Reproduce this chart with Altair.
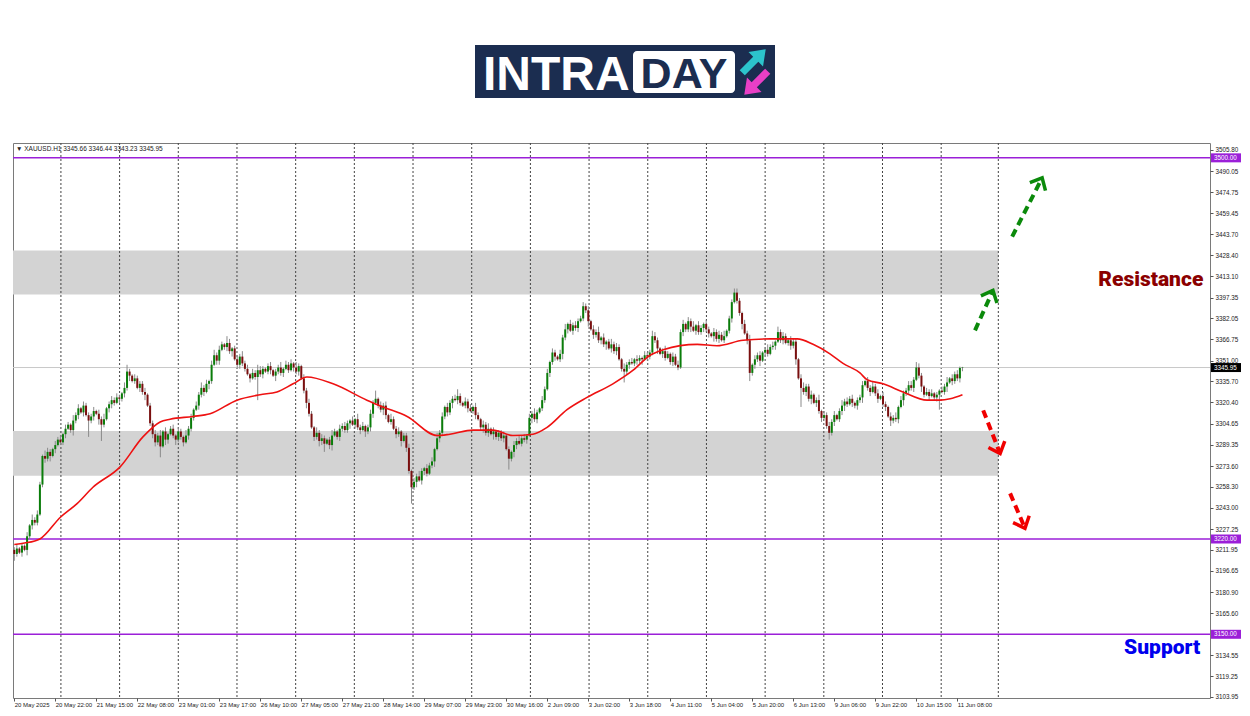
import altair as alt
import pandas as pd

# ---------------- data ----------------
FIRST_OPEN = 3212.0
CLOSE_ROWS = [
    [3209, 3213, 3210, 3215, 3212, 3222, 3230, 3234, 3232, 3238],
    [3260, 3281, 3279, 3284, 3281, 3286, 3289, 3293, 3291, 3297],
    [3301, 3304, 3300, 3307, 3311, 3316, 3313, 3318, 3311, 3307],
    [3310, 3314, 3312, 3308, 3304, 3308, 3316, 3319, 3322, 3320],
    [3324, 3323, 3327, 3331, 3343, 3340, 3336, 3338, 3331, 3334],
    [3328, 3326, 3318, 3305, 3297, 3291, 3296, 3288, 3299, 3293],
    [3297, 3301, 3296, 3293, 3299, 3295, 3291, 3296, 3301, 3309],
    [3315, 3318, 3326, 3331, 3328, 3334, 3336, 3348, 3355, 3351],
    [3359, 3363, 3361, 3364, 3358, 3360, 3352, 3348, 3354, 3349],
    [3345, 3341, 3338, 3342, 3339, 3344, 3341, 3345, 3343, 3347],
    [3344, 3340, 3343, 3346, 3342, 3345, 3348, 3344, 3349, 3346],
    [3343, 3347, 3338, 3329, 3320, 3312, 3302, 3295, 3298, 3292],
    [3294, 3290, 3293, 3289, 3296, 3299, 3295, 3301, 3303, 3300],
    [3305, 3307, 3304, 3308, 3302, 3300, 3303, 3299, 3302, 3312],
    [3320, 3323, 3318, 3315, 3318, 3311, 3306, 3308, 3301, 3297],
    [3299, 3292, 3296, 3287, 3270, 3258, 3262, 3266, 3263, 3270],
    [3272, 3268, 3274, 3277, 3286, 3294, 3298, 3310, 3317, 3313],
    [3320, 3323, 3322, 3325, 3320, 3318, 3321, 3316, 3314, 3317],
    [3311, 3308, 3302, 3304, 3298, 3301, 3297, 3299, 3295, 3298],
    [3294, 3296, 3286, 3279, 3284, 3289, 3292, 3290, 3294, 3293],
    [3296, 3309, 3312, 3308, 3313, 3316, 3322, 3330, 3342, 3350],
    [3357, 3354, 3352, 3356, 3368, 3374, 3378, 3373, 3377, 3375],
    [3380, 3382, 3391, 3388, 3380, 3374, 3370, 3372, 3366, 3368],
    [3363, 3365, 3360, 3363, 3358, 3361, 3352, 3345, 3343, 3348],
    [3350, 3349, 3352, 3351, 3353, 3352, 3355, 3354, 3357, 3369],
    [3366, 3360, 3356, 3358, 3353, 3356, 3350, 3354, 3348, 3346],
    [3372, 3378, 3374, 3380, 3376, 3373, 3377, 3372, 3375, 3378],
    [3374, 3371, 3369, 3372, 3367, 3370, 3366, 3369, 3373, 3382],
    [3394, 3401, 3395, 3386, 3378, 3371, 3366, 3342, 3348, 3352],
    [3355, 3351, 3357, 3359, 3356, 3361, 3362, 3365, 3372, 3366],
    [3369, 3364, 3366, 3362, 3365, 3352, 3338, 3331, 3328, 3332],
    [3323, 3326, 3320, 3322, 3314, 3309, 3311, 3303, 3298, 3306],
    [3311, 3308, 3314, 3318, 3321, 3319, 3323, 3320, 3318, 3322],
    [3324, 3333, 3336, 3331, 3328, 3332, 3327, 3323, 3325, 3319],
    [3317, 3310, 3307, 3309, 3308, 3317, 3322, 3327, 3329, 3333],
    [3331, 3337, 3346, 3340, 3332, 3326, 3328, 3325, 3327, 3324],
    [3326, 3329, 3328, 3332, 3335, 3338, 3336, 3341, 3338, 3345.66],
    [3345.95],
]
# wick lengths above / below the body, one base-36 character per bar (dollars)
WICK_UP = "".join([
    "2312131423", "2143213231", "3214231322", "2313241232", "3214521322",
    "2312232413", "1231321423", "1324231342", "3215312324", "2313243212",
    "3122413231", "4213232142", "3212421323", "2131423123", "2613231422",
    "3122313242", "1323142313", "2235213231", "3213241312", "2312132423",
    "1324213231", "3213241323", "2232313241", "3124232142", "2313213224",
    "3212421323", "2313241321", "3213232412", "2332132413", "2312423142",
    "3213221342", "2312413232", "3124232312", "2313242313", "2132413223",
    "3243213231", "2132413231", "0",
])
WICK_DN = "".join([
    "5213142322", "1232413122", "312423131c", "2314c21332", "1323241213",
    "2412332814", "3124223132", "2132314213", "3123241332", "21312h2312",
    "3142231213", "2312421324", "3613412322", "2413231423", "3122431213",
    "24132c2413", "3212413223", "2413212312", "3124231423", "2318243122",
    "3142312213", "2312423132", "3122413223", "2413231282", "3123241322",
    "2413212312", "1322413223", "2314231212", "3122413623", "2413212312",
    "3123241e23", "2413231252", "3123421323", "2412312312", "3142231423",
    "2312421312", "3b12413223", "2",
])
LAST_BAR = {"open": 3345.66, "high": 3346.44, "low": 3343.23, "close": 3345.95}

# moving average (red line), read at selected bars
MA_IDX = [0, 4, 10, 18, 24.5, 30.7, 41.3, 50.2, 56.9, 60.8, 69.7, 76.4, 86.9, 95.9,
          102.5, 108.8, 114.2, 124.4, 137.6, 143.9, 153.3, 165, 170, 179, 186.8,
          194.6, 202.4, 207.9, 215.7, 223.5, 233.6, 241.5, 248.1, 253.2, 266.5,
          274.2, 284.4, 295, 305.5, 311.7, 318.3, 323.4, 330, 332.8, 339, 346.8,
          356.2, 361.3, 365.2, 370]
MA_VAL = [3216, 3217, 3220, 3236, 3246, 3258, 3273, 3295, 3306, 3308, 3310, 3312,
          3322, 3326, 3328, 3334, 3339, 3334, 3322, 3317, 3310, 3296, 3297, 3300,
          3300, 3296, 3297, 3302, 3315, 3324, 3334, 3344, 3355, 3359, 3363, 3362,
          3366, 3367, 3367, 3363, 3356, 3349, 3342, 3337, 3334, 3328, 3322, 3322,
          3323, 3326]

X_LABELS = ["20 May 2025", "20 May 22:00", "21 May 15:00", "22 May 08:00",
            "23 May 01:00", "23 May 17:00", "26 May 10:00", "27 May 05:00",
            "27 May 21:00", "28 May 14:00", "29 May 07:00", "29 May 23:00",
            "30 May 16:00", "2 Jun 09:00", "3 Jun 02:00", "3 Jun 18:00",
            "4 Jun 11:00", "5 Jun 04:00", "5 Jun 20:00", "6 Jun 13:00",
            "9 Jun 06:00", "9 Jun 22:00", "10 Jun 15:00", "11 Jun 08:00"]
X_LABEL_STEP = 16
Y_TICKS = [3505.80, 3490.05, 3474.75, 3459.45, 3443.70, 3428.40, 3413.10, 3397.35,
           3382.05, 3366.75, 3351.00, 3335.70, 3320.40, 3304.65, 3289.35, 3273.60,
           3258.30, 3243.00, 3227.25, 3211.95, 3196.65, 3180.90, 3165.60, 3134.55,
           3119.25, 3103.95]
GRID_IDX = [18.2, 41.1, 64.0, 86.9, 109.8, 132.7, 155.6, 178.5, 201.4, 224.3,
            247.2, 270.1, 293.0, 315.9, 338.8, 361.7, 384.0]

ZONE_LOW = [3266.4, 3399.7]
ZONE_HIGH = [3299.4, 3431.9]
ZONE_END = 384.0

LEVELS = [3500.0, 3220.0, 3150.0]
CURRENT = 3345.95
HEADER = "▼ XAUUSD.H1  3345.66 3346.44 3343.23 3345.95"

ARROW_X0 = [374.9, 389.4, 378.1, 388.6]
ARROW_Y0 = [3373.3, 3442.1, 3314.5, 3253.5]
ARROW_X1 = [381.9, 401.1, 384.7, 394.4]
ARROW_Y1 = [3402.6, 3485.3, 3282.8, 3227.9]
ARROW_ANGLE = [24, 27, 159, 157]
ARROW_COLOR = ["#0b8a0b", "#0b8a0b", "#f00000", "#f00000"]

NOTE_TEXT = ["Resistance", "Support"]
NOTE_IDX = [464.0, 462.8]
NOTE_PRICE = [3409.9, 3139.8]
NOTE_COLOR = ["#8b0000", "#0000ee"]

# ---------------- build tables ----------------
closes = [float(v) for row in CLOSE_ROWS for v in row]
opens = [FIRST_OPEN] + closes[:-1]
rows = []
for i, (o, c) in enumerate(zip(opens, closes)):
    hi = max(o, c) + int(WICK_UP[i], 36)
    lo = min(o, c) - int(WICK_DN[i], 36)
    rows.append({"i": i, "open": o, "close": c, "high": hi, "low": lo})
rows[-1].update(LAST_BAR)
for r in rows:
    r["dir"] = "up" if r["close"] >= r["open"] else "down"
candles = pd.DataFrame(rows)

ma = pd.DataFrame({"i": MA_IDX, "v": MA_VAL})
grid = pd.DataFrame({"g": GRID_IDX})
zones = pd.DataFrame({"lo": ZONE_LOW, "hi": ZONE_HIGH,
                      "s": [-0.5] * len(ZONE_LOW), "e": [ZONE_END] * len(ZONE_LOW)})
levels = pd.DataFrame({"p": LEVELS})
cur = pd.DataFrame({"p": [CURRENT]})
boxes = pd.DataFrame({"p": LEVELS + [CURRENT],
                      "txt": [f"{v:.2f}" for v in LEVELS + [CURRENT]],
                      "col": ["#9b1fd8"] * len(LEVELS) + ["#000000"]})
arrows = pd.DataFrame({"x0": ARROW_X0, "y0": ARROW_Y0, "x1": ARROW_X1, "y1": ARROW_Y1,
                       "ang": ARROW_ANGLE, "col": ARROW_COLOR})
notes = pd.DataFrame({"t": NOTE_TEXT, "i": NOTE_IDX, "p": NOTE_PRICE, "col": NOTE_COLOR})
header = pd.DataFrame({"t": [HEADER]})
logo = pd.DataFrame({"a": ["INTRA"], "b": ["DAY"]})

# ---------------- scales / axes ----------------
W, H = 1197, 555
XS = alt.Scale(domain=[-0.5, 466.6], nice=False, zero=False, padding=0)
YS = alt.Scale(domain=[3103.2, 3510.9], nice=False, zero=False, padding=0)
label_arr = "[" + ",".join("'" + s + "'" for s in X_LABELS) + "]"
XA = alt.Axis(values=[k * X_LABEL_STEP for k in range(len(X_LABELS))],
              labelExpr=label_arr + "[round(datum.value / %d)]" % X_LABEL_STEP,
              labelAlign="left", labelFontSize=6, labelFont="Liberation Sans",
              labelColor="#222", tickSize=3, tickColor="#555", domain=False,
              grid=False, labelPadding=0, labelOverlap=False, title=None)
YA = alt.Axis(orient="right", values=Y_TICKS, format=".2f", labelFontSize=6.3,
              labelFont="Liberation Sans", labelColor="#222", tickSize=3,
              tickColor="#555", domain=False, grid=False, labelPadding=2,
              labelOverlap=False, title=None)


def X(f, **kw):
    return alt.X(f, scale=XS, axis=XA, **kw)


def Y(f, **kw):
    return alt.Y(f, scale=YS, axis=YA, **kw)


layers = []
# grey zones
layers.append(alt.Chart(zones).mark_rect(color="#d3d3d3").encode(
    x=X("s:Q"), x2="e:Q", y=Y("lo:Q"), y2="hi:Q"))
# dotted vertical grid
layers.append(alt.Chart(grid).mark_rule(color="#444", strokeWidth=1, strokeDash=[2, 2]).encode(
    x=X("g:Q")))
# current price line
layers.append(alt.Chart(cur).mark_rule(color="#c8c8c8", strokeWidth=1).encode(y=Y("p:Q")))
# purple levels
layers.append(alt.Chart(levels).mark_rule(color="#9b1fd8", strokeWidth=1.5).encode(y=Y("p:Q")))
# wicks
layers.append(alt.Chart(candles).mark_rule(color="#8a8a8a", strokeWidth=1).encode(
    x=X("i:Q"), y=Y("low:Q"), y2="high:Q"))
# bodies
layers.append(alt.Chart(candles).mark_bar(width=2).encode(
    x=X("i:Q"), y=Y("open:Q"), y2="close:Q",
    color=alt.Color("dir:N", scale=alt.Scale(domain=["up", "down"],
                                             range=["#0a7d0a", "#7a0f0f"]), legend=None)))
# moving average
layers.append(alt.Chart(ma).mark_line(color="#ee1111", strokeWidth=1.6,
                                      interpolate="monotone").encode(x=X("i:Q"), y=Y("v:Q")))
# arrows
layers.append(alt.Chart(arrows).mark_rule(strokeWidth=4, strokeDash=[8, 5], strokeCap="butt").encode(
    x=X("x0:Q"), y=Y("y0:Q"), x2="x1:Q", y2="y1:Q", color=alt.Color("col:N", scale=None)))
layers.append(alt.Chart(arrows).mark_point(shape="M-0.8,0.9L0,0L0.8,0.9", size=480,
                                           filled=False, strokeWidth=3.5, opacity=1).encode(
    x=X("x1:Q"), y=Y("y1:Q"), angle=alt.Angle("ang:Q", scale=None),
    color=alt.Color("col:N", scale=None)))
# price label boxes on the axis
layers.append(alt.Chart(boxes).mark_point(shape="M-1,-0.3H1V0.3H-1Z", size=900, filled=True,
                                          opacity=1, strokeWidth=0).encode(
    x=alt.value(W + 16), y=Y("p:Q"), color=alt.Color("col:N", scale=None)))
layers.append(alt.Chart(boxes).mark_text(align="left", baseline="middle", fontSize=6.3,
                                         font="Liberation Sans", color="white").encode(
    x=alt.value(W + 4), y=Y("p:Q"), text="txt:N"))
# Resistance / Support
layers.append(alt.Chart(notes).mark_text(align="right", baseline="middle", fontSize=21,
                                         font="Roboto", fontWeight=900).encode(
    x=X("i:Q"), y=Y("p:Q"), text="t:N", color=alt.Color("col:N", scale=None)))
# header
layers.append(alt.Chart(header).mark_text(align="left", baseline="middle", fontSize=6.5,
                                          font="Liberation Sans", color="#222").encode(
    x=alt.value(3), y=alt.value(6), text="t:N"))
# logo
layers.append(alt.Chart(logo).mark_rect(color="#1b2d50").encode(
    x=alt.value(462), x2=alt.value(762), y=alt.value(-98), y2=alt.value(-45)))
layers.append(alt.Chart(logo).mark_rect(color="white", cornerRadius=4).encode(
    x=alt.value(620), x2=alt.value(722), y=alt.value(-92), y2=alt.value(-50)))
layers.append(alt.Chart(logo).mark_text(align="left", baseline="alphabetic", fontSize=48,
                                        font="Liberation Sans", fontWeight="bold",
                                        color="white").encode(
    x=alt.value(470), y=alt.value(-53), text="a:N"))
layers.append(alt.Chart(logo).mark_text(align="center", baseline="alphabetic", fontSize=43,
                                        font="Liberation Sans", fontWeight="bold",
                                        color="#1b2d50").encode(
    x=alt.value(671), y=alt.value(-55), text="b:N"))
ARROW_PATH = "M-0.22,1L-0.22,-0.15L-0.62,-0.15L0,-1L0.62,-0.15L0.22,-0.15L0.22,1Z"
layers.append(alt.Chart(logo).mark_point(shape=ARROW_PATH, size=1100, filled=True, opacity=1,
                                         color="#2cc4cc", angle=45, strokeWidth=0).encode(
    x=alt.value(741), y=alt.value(-82)))
layers.append(alt.Chart(logo).mark_point(shape=ARROW_PATH, size=1100, filled=True, opacity=1,
                                         color="#e83fc6", angle=225, strokeWidth=0).encode(
    x=alt.value(743), y=alt.value(-60)))

chart = alt.layer(*layers).properties(
    width=W, height=H,
    padding={"left": 5, "top": 135, "right": 32, "bottom": 10},
    autosize=alt.AutoSizeParams(type="none"),
    background="white",
).configure_view(stroke="#7a7a7a", strokeWidth=1)

chart.save("out.html", embed_options={"renderer": "svg", "actions": False})
